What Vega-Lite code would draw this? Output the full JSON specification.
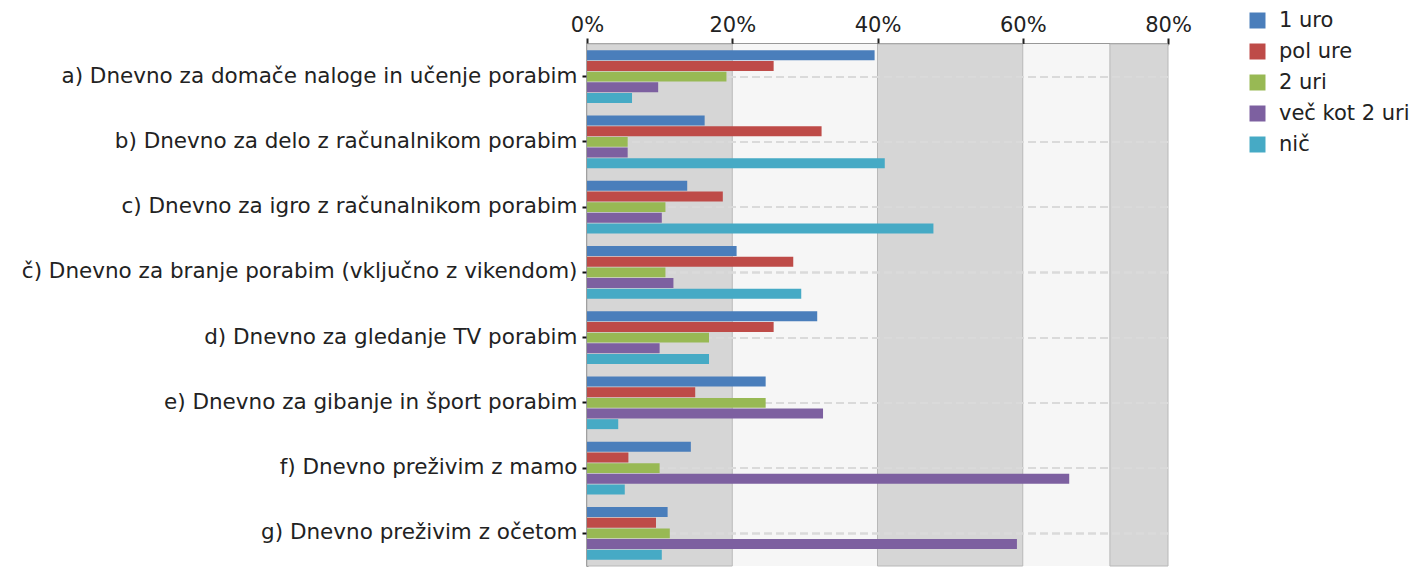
{
  "$schema": "https://vega.github.io/schema/vega-lite/v6.json",
  "autosize": "none",
  "width": 581,
  "height": 522,
  "padding": {"left": 587, "top": 44, "right": 245, "bottom": 1},
  "background": "white",
  "config": {
    "font": "DejaVu Sans",
    "view": {"stroke": null},
    "axis": {"labelFont": "DejaVu Sans", "labelColor": "#222222"},
    "axisX": {
      "title": null, "orient": "top", "labelFlush": false, "labelOverlap": false,
      "labelExpr": "datum.value + '%'", "labelFontSize": 21, "labelPadding": 3,
      "domainColor": "#333333", "domainWidth": 2, "tickColor": "#222222", "tickWidth": 2, "tickSize": 6,
      "grid": false, "zindex": 1
    },
    "axisY": {
      "title": null, "labelFontSize": 21.5, "labelLimit": 700, "labelPadding": 5,
      "domainColor": "#111111", "domainWidth": 2, "tickColor": "#111111", "tickWidth": 2, "tickSize": 5,
      "grid": false, "zindex": 1
    },
    "legend": {"labelFont": "DejaVu Sans"}
  },
  "datasets": {
    "bars": [
      {"q": "a) Dnevno za domače naloge in učenje porabim", "s": "1 uro", "v": 39.6},
      {"q": "a) Dnevno za domače naloge in učenje porabim", "s": "pol ure", "v": 25.7},
      {"q": "a) Dnevno za domače naloge in učenje porabim", "s": "2 uri", "v": 19.2},
      {"q": "a) Dnevno za domače naloge in učenje porabim", "s": "več kot 2 uri", "v": 9.8},
      {"q": "a) Dnevno za domače naloge in učenje porabim", "s": "nič", "v": 6.2},
      {"q": "b) Dnevno za delo z računalnikom porabim", "s": "1 uro", "v": 16.2},
      {"q": "b) Dnevno za delo z računalnikom porabim", "s": "pol ure", "v": 32.3},
      {"q": "b) Dnevno za delo z računalnikom porabim", "s": "2 uri", "v": 5.6},
      {"q": "b) Dnevno za delo z računalnikom porabim", "s": "več kot 2 uri", "v": 5.6},
      {"q": "b) Dnevno za delo z računalnikom porabim", "s": "nič", "v": 41.0},
      {"q": "c) Dnevno za igro z računalnikom porabim", "s": "1 uro", "v": 13.8},
      {"q": "c) Dnevno za igro z računalnikom porabim", "s": "pol ure", "v": 18.7},
      {"q": "c) Dnevno za igro z računalnikom porabim", "s": "2 uri", "v": 10.8},
      {"q": "c) Dnevno za igro z računalnikom porabim", "s": "več kot 2 uri", "v": 10.3},
      {"q": "c) Dnevno za igro z računalnikom porabim", "s": "nič", "v": 47.7},
      {"q": "č) Dnevno za branje porabim (vključno z vikendom)", "s": "1 uro", "v": 20.6},
      {"q": "č) Dnevno za branje porabim (vključno z vikendom)", "s": "pol ure", "v": 28.4},
      {"q": "č) Dnevno za branje porabim (vključno z vikendom)", "s": "2 uri", "v": 10.8},
      {"q": "č) Dnevno za branje porabim (vključno z vikendom)", "s": "več kot 2 uri", "v": 11.9},
      {"q": "č) Dnevno za branje porabim (vključno z vikendom)", "s": "nič", "v": 29.5},
      {"q": "d) Dnevno za gledanje TV porabim", "s": "1 uro", "v": 31.7},
      {"q": "d) Dnevno za gledanje TV porabim", "s": "pol ure", "v": 25.7},
      {"q": "d) Dnevno za gledanje TV porabim", "s": "2 uri", "v": 16.8},
      {"q": "d) Dnevno za gledanje TV porabim", "s": "več kot 2 uri", "v": 10.0},
      {"q": "d) Dnevno za gledanje TV porabim", "s": "nič", "v": 16.8},
      {"q": "e) Dnevno za gibanje in šport porabim", "s": "1 uro", "v": 24.6},
      {"q": "e) Dnevno za gibanje in šport porabim", "s": "pol ure", "v": 14.9},
      {"q": "e) Dnevno za gibanje in šport porabim", "s": "2 uri", "v": 24.6},
      {"q": "e) Dnevno za gibanje in šport porabim", "s": "več kot 2 uri", "v": 32.5},
      {"q": "e) Dnevno za gibanje in šport porabim", "s": "nič", "v": 4.3},
      {"q": "f) Dnevno preživim z mamo", "s": "1 uro", "v": 14.3},
      {"q": "f) Dnevno preživim z mamo", "s": "pol ure", "v": 5.7},
      {"q": "f) Dnevno preživim z mamo", "s": "2 uri", "v": 10.0},
      {"q": "f) Dnevno preživim z mamo", "s": "več kot 2 uri", "v": 66.4},
      {"q": "f) Dnevno preživim z mamo", "s": "nič", "v": 5.2},
      {"q": "g) Dnevno preživim z očetom", "s": "1 uro", "v": 11.1},
      {"q": "g) Dnevno preživim z očetom", "s": "pol ure", "v": 9.5},
      {"q": "g) Dnevno preživim z očetom", "s": "2 uri", "v": 11.4},
      {"q": "g) Dnevno preživim z očetom", "s": "več kot 2 uri", "v": 59.2},
      {"q": "g) Dnevno preživim z očetom", "s": "nič", "v": 10.3}
    ],
    "bands": [
      {"from": 0, "to": 20, "kind": "hatch"},
      {"from": 20, "to": 40, "kind": "light"},
      {"from": 40, "to": 60, "kind": "hatch"},
      {"from": 60, "to": 72, "kind": "light"},
      {"from": 72, "to": 80, "kind": "hatch"}
    ]
  },
  "layer": [
    {
      "data": {"name": "bands"},
      "transform": [{"filter": "datum.kind === 'light'"}],
      "mark": {"type": "rect", "fill": "#f6f6f6"},
      "encoding": {
        "x": {"field": "from", "type": "quantitative", "title": null, "scale": {"domain": [0, 80], "nice": false, "zero": true}, "axis": {"values": [0, 20, 40, 60, 80]}},
        "x2": {"field": "to"}
      }
    },
    {
      "data": {"name": "bands"},
      "transform": [{"filter": "datum.kind === 'hatch'"}],
      "mark": {"type": "rect", "fill": "#d6d6d6", "stroke": "#b8b8b8", "strokeWidth": 1},
      "encoding": {
        "x": {"field": "from", "type": "quantitative", "title": null, "axis": {"values": [0, 20, 40, 60, 80]}},
        "x2": {"field": "to"}
      }
    },
    {
      "data": {"name": "bars"},
      "mark": {"type": "rule", "stroke": "#dadada", "strokeWidth": 1.5, "strokeDash": [8, 4]},
      "encoding": {
        "y": {"field": "q", "type": "nominal", "sort": null, "title": null}
      }
    },
    {
      "data": {"name": "bars"},
      "mark": {"type": "bar", "strokeWidth": 0},
      "encoding": {
        "y": {
          "field": "q", "type": "nominal", "sort": null, "title": null,
          "scale": {"paddingInner": 0.185, "paddingOuter": 0.0925}
        },
        "yOffset": {
          "field": "s", "type": "nominal",
          "sort": ["1 uro", "pol ure", "2 uri", "več kot 2 uri", "nič"],
          "scale": {"paddingInner": 0.06, "paddingOuter": 0.03}
        },
        "x": {"field": "v", "type": "quantitative", "title": null, "axis": {"values": [0, 20, 40, 60, 80]}},
        "color": {
          "field": "s", "type": "nominal",
          "sort": ["1 uro", "pol ure", "2 uri", "več kot 2 uri", "nič"],
          "scale": {"domain": ["1 uro", "pol ure", "2 uri", "več kot 2 uri", "nič"], "range": ["#4a7ebb", "#be4b48", "#98b954", "#7d60a0", "#46aac5"]},
          "legend": {
            "title": null, "orient": "none", "legendX": 660, "legendY": -34,
            "symbolType": "square", "symbolSize": 256, "symbolStrokeWidth": 0,
            "labelFontSize": 21, "labelColor": "#222222", "labelOffset": 11, "rowPadding": 9, "padding": 0
          }
        }
      }
    }
  ]
}
